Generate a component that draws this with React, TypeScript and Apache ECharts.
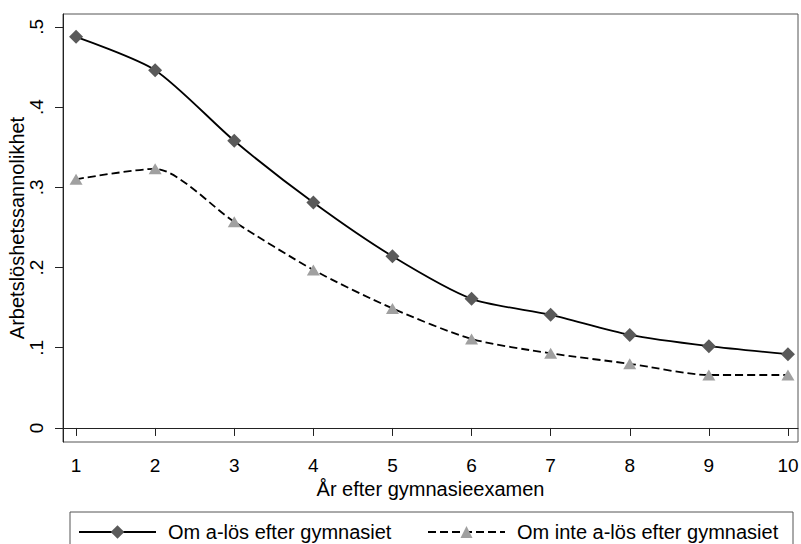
import React, { useEffect, useRef } from "react";
import * as echarts from "echarts";

const years = [1, 2, 3, 4, 5, 6, 7, 8, 9, 10];
const seriesAloes = [0.4875, 0.446, 0.358, 0.281, 0.214, 0.161, 0.141, 0.116, 0.102, 0.092];
const seriesInteAloes = [0.31, 0.323, 0.257, 0.197, 0.149, 0.111, 0.093, 0.08, 0.066, 0.066];
const yTicks = [0, 0.1, 0.2, 0.3, 0.4, 0.5];
const seriesNames = ["Om a-lös efter gymnasiet", "Om inte a-lös efter gymnasiet"];
const xTitle = "År efter gymnasieexamen";
const yTitle = "Arbetslöshetssannolikhet";

const FONT = "Liberation Sans, Arial, sans-serif";

export default function App() {
  const ref = useRef<HTMLDivElement>(null);
  useEffect(() => {
    document.body.style.margin = "0";
    if (!ref.current) return;
    const chart = echarts.init(ref.current, undefined, { renderer: "svg" });
    const fmtY = (v: number) => (v === 0 ? "0" : String(Math.round(v * 10) / 10).replace(/^0/, ""));
    chart.setOption({
      animation: false,
      backgroundColor: "#ffffff",
      textStyle: { fontFamily: FONT },
      grid: {
        left: 63,
        top: 14,
        width: 735,
        height: 428,
        containLabel: false,
        outerBoundsMode: "none",
        show: true,
        borderColor: "#555",
        borderWidth: 1,
        backgroundColor: "#ffffff",
      },
      xAxis: {
        type: "value",
        min: 0.835,
        max: 10.127,
        name: xTitle,
        nameLocation: "middle",
        nameGap: 37,
        nameMoveOverlap: false,
        nameTextStyle: { color: "#000", fontSize: 20, fontFamily: FONT },
        axisLine: { show: true, lineStyle: { color: "#222", width: 1 } },
        axisTick: {
          show: true,
          length: 8,
          customValues: years,
          lineStyle: { color: "#222" },
        },
        axisLabel: {
          customValues: years,
          margin: 14,
          color: "#000",
          fontSize: 19,
          fontFamily: FONT,
        },
        splitLine: { show: false },
      },
      yAxis: {
        type: "value",
        min: -0.0175,
        max: 0.516,
        name: yTitle,
        nameLocation: "middle",
        nameGap: 36,
        nameMoveOverlap: false,
        nameTextStyle: { color: "#000", fontSize: 20, fontFamily: FONT },
        axisLine: { show: true, lineStyle: { color: "#222", width: 1 } },
        axisTick: {
          show: true,
          length: 8,
          customValues: yTicks,
          lineStyle: { color: "#222" },
        },
        axisLabel: {
          customValues: yTicks,
          rotate: 90,
          margin: 17,
          color: "#000",
          fontSize: 19,
          fontFamily: FONT,
          formatter: fmtY,
        },
        splitLine: { show: false },
      },
      legend: [
        {
          data: [seriesNames[0]],
          left: 78,
          top: 522,
          padding: 0,
          itemWidth: 77,
          itemHeight: 17,
          textStyle: { color: "#000", fontSize: 20, fontFamily: FONT, padding: [0, 0, 0, 7] },
        },
        {
          data: [seriesNames[1]],
          left: 427,
          top: 522,
          padding: 0,
          itemWidth: 77,
          itemHeight: 15,
          textStyle: { color: "#000", fontSize: 20, fontFamily: FONT, padding: [0, 0, 0, 7] },
        },
      ],
      graphic: [
        {
          type: "rect",
          shape: { x: 70, y: 512, width: 723, height: 40 },
          style: { fill: "none", stroke: "#555", lineWidth: 1 },
          z: -1,
        },
      ],
      series: [
        {
          name: seriesNames[0],
          type: "line",
          data: years.map((x, i) => [x, seriesAloes[i]]),
          smooth: 0.25,
          symbol: "diamond",
          symbolSize: [14, 14],
          itemStyle: { color: "#5a5a5a" },
          lineStyle: { color: "#000", width: 1.8, type: "solid" },
        },
        {
          name: seriesNames[1],
          type: "line",
          data: years.map((x, i) => [x, seriesInteAloes[i]]),
          smooth: 0.25,
          symbol: "triangle",
          symbolSize: [13, 11],
          itemStyle: { color: "#a0a0a0" },
          lineStyle: { color: "#000", width: 1.8, type: [8, 4] },
        },
      ],
    });
    return () => chart.dispose();
  }, []);
  return <div ref={ref} style={{ width: 801, height: 544 }} />;
}
